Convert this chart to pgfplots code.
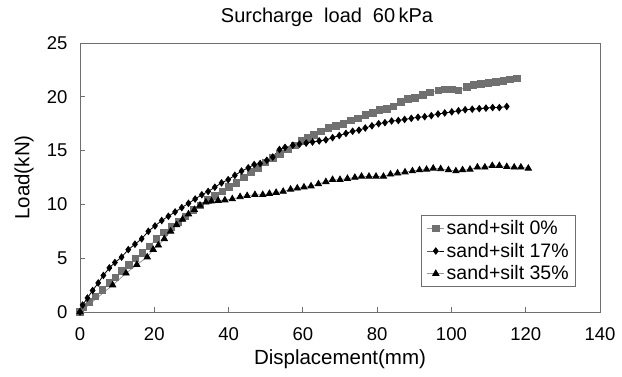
\documentclass[border=0pt]{standalone}
\usepackage{fontspec}
\setmainfont{Liberation Sans}
\usepackage{pgfplots}
\pgfplotsset{compat=1.18}
\definecolor{sqgray}{RGB}{112,112,112}
\definecolor{lngray}{RGB}{150,150,150}
\definecolor{framec}{RGB}{110,110,110}
\begin{document}
\begin{tikzpicture}
\useasboundingbox (-80pt,-64pt) rectangle (542pt,312pt);
\begin{axis}[
  at={(0,0)}, anchor=south west,
  scale only axis, width=520pt, height=269pt,
  xmin=0, xmax=140, ymin=0, ymax=25,
  xtick={0,20,...,140}, ytick={0,5,...,25},
  tick align=inside, major tick length=5pt,
  xtick pos=left, ytick pos=left,
  axis line style={framec, line width=0.8pt},
  tick style={framec, line width=0.8pt},
  /pgf/number format/assume math mode=true,
  ticklabel style={font=\fontsize{18.5}{21}\selectfont},
  xticklabel style={yshift=-12pt},
  yticklabel style={xshift=-9pt},
  title={Surcharge\hspace{0.55em}load\hspace{0.55em}60\,kPa},
  title style={at={(0.5,1)}, anchor=base, yshift=15pt, xshift=-13pt, font=\fontsize{20}{22}\selectfont},
  xlabel={Displacement(mm)},
  xlabel style={at={(axis description cs:0.5,-0.175)}, anchor=center, font=\fontsize{20.5}{23}\selectfont},
  ylabel={Load(kN)},
  ylabel style={at={(axis description cs:-0.1077,0.5)}, anchor=center, font=\fontsize{20.5}{23}\selectfont},
  legend style={at={(0.954,0.36)}, anchor=north east, draw=framec, line width=0.8pt,
    font=\fontsize{19.5}{21}\selectfont, row sep=3pt, inner xsep=5pt, inner ysep=3pt},
  legend cell align=left,
]
\addplot[lngray, line width=0.8pt, mark=square*, mark size=3.3pt,
  mark options={draw=sqgray, fill=sqgray}] coordinates {
(0,0) (0.9,0.5) (2.5,0.95) (4.1,1.45) (6.0,2.05) (7.9,2.7) (9.5,3.2) (11.3,3.8)
(13.2,4.4) (14.9,5.0) (16.8,5.5) (18.7,6.1) (20.6,6.8) (22.6,7.4) (24.6,7.9)
(26.5,8.4) (28.4,8.9) (30.5,9.5) (32.4,9.9) (34.4,10.4) (36.4,10.8) (38.3,11.2)
(40.1,11.6) (42.1,12.0) (44.1,12.5) (46.0,13.0) (48.0,13.4) (49.9,13.9) (51.9,14.3)
(53.9,14.7) (55.9,15.1) (57.8,15.5) (59.6,15.9) (61.2,16.2) (62.9,16.45) (64.9,16.8)
(66.9,17.1) (68.9,17.3) (70.9,17.5) (73.0,17.8) (74.9,18.0) (76.8,18.3) (78.8,18.5)
(80.6,18.8) (82.6,18.9) (84.4,19.1) (86.4,19.5) (88.2,19.8) (90.2,19.9) (92.3,20.2)
(94.2,20.4) (96.5,20.6) (98.3,20.7) (100.1,20.7) (101.9,20.6) (104.1,20.9) (105.9,21.1)
(107.9,21.2) (109.9,21.3) (112.0,21.4) (114.0,21.5) (115.8,21.6) (117.7,21.7)
};
\addlegendentry{sand+silt 0\%}
\addplot[black, line width=0.8pt, mark=diamond*, mark size=3.2pt,
  mark options={fill=black}] coordinates {
(0,0) (0.7,0.65) (2.0,1.3) (3.4,2.0) (4.9,2.7) (6.3,3.4) (7.9,4.1) (9.4,4.6)
(11.2,5.1) (13.0,5.8) (14.8,6.3) (16.6,6.8) (18.4,7.5) (20.2,8.0) (22.0,8.5)
(23.8,8.9) (25.6,9.3) (27.4,9.7) (29.2,10.1) (31.0,10.5) (32.8,10.9) (34.5,11.2)
(36.3,11.6) (38.1,12.0) (39.9,12.3) (41.7,12.7) (43.5,13.1) (45.3,13.4) (46.9,13.7)
(48.5,13.8) (50.3,14.1) (51.9,14.4) (53.7,15.1) (55.2,15.3) (57.3,15.5) (59.1,15.6)
(60.9,15.7) (62.6,15.8) (64.4,15.9) (66.2,16.0) (68.0,16.2) (69.8,16.4) (71.6,16.6)
(73.4,16.8) (75.1,16.9) (76.8,17.1) (78.6,17.3) (80.4,17.5) (82.1,17.6) (83.9,17.75)
(85.7,17.8) (87.4,17.9) (89.2,18.0) (91.0,18.1) (92.8,18.15) (94.6,18.25) (96.4,18.4)
(98.2,18.5) (100.1,18.6) (101.9,18.7) (103.7,18.8) (105.6,18.85) (107.5,18.9)
(109.3,18.95) (111.1,19.0) (112.9,19.0) (114.9,19.1)
};
\addlegendentry{sand+silt 17\%}
\addplot[lngray, line width=0.8pt, mark=triangle*, mark size=3.6pt,
  mark options={draw=black, fill=black}] coordinates {
(0,0) (8.8,2.5) (12.4,3.6) (15.3,4.4) (18.1,5.1) (19.7,5.8) (21.1,6.2) (22.7,6.8)
(24.4,7.5) (26.0,8.1) (27.6,8.6) (29.2,9.1) (30.8,9.5) (32.3,9.9) (33.9,10.2)
(35.4,10.3) (37.2,10.35) (39.0,10.4) (41.0,10.5) (43.1,10.7) (45.0,10.8) (47.1,10.9)
(49.2,10.9) (51.0,11.0) (52.8,11.1) (54.7,11.2) (56.7,11.4) (58.5,11.5) (60.3,11.6)
(62.2,11.7) (64.2,11.9) (66.2,12.1) (68.0,12.3) (70.0,12.3) (72.0,12.4) (74.0,12.5)
(75.8,12.6) (77.8,12.6) (79.7,12.6) (81.7,12.6) (83.6,12.8) (85.5,12.9) (87.5,13.0)
(89.5,13.1) (91.4,13.2) (93.3,13.25) (95.1,13.35) (97.1,13.3) (99.2,13.2) (101.2,13.1)
(103.0,13.2) (105.0,13.25) (107.0,13.45) (109.0,13.45) (111.0,13.6) (112.9,13.6)
(114.9,13.5) (116.9,13.45) (118.7,13.45) (120.7,13.35)
};
\addlegendentry{sand+silt 35\%}
\end{axis}
\end{tikzpicture}
\end{document}
